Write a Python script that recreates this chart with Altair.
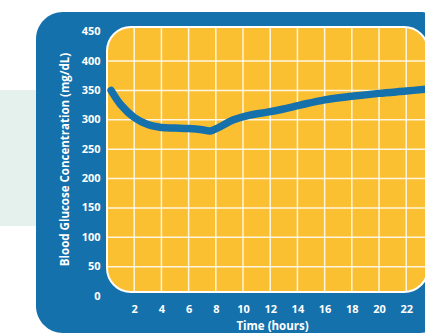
import altair as alt
import pandas as pd

# Data
hours = [0.3, 1, 2, 3, 4, 5, 6, 7, 7.6, 8.3, 9.3, 10.5, 11.8, 12.9, 14.2, 16, 18, 20, 22, 23.4]
glucose = [350, 326, 304, 292, 287, 286, 285, 283, 281, 288, 300, 308, 313, 318, 325, 334, 340, 345, 349, 352]
x_ticks = [2, 4, 6, 8, 10, 12, 14, 16, 18, 20, 22]
y_ticks = [0, 50, 100, 150, 200, 250, 300, 350, 400, 450]
x_grid = [2, 4, 6, 8, 10, 12, 14, 16, 18, 20, 22, 24]
y_grid = [50, 100, 150, 200, 250, 300, 350, 400]

BLUE = "#1571AB"
YELLOW = "#FBBF32"
FONT = "Open Sans"

W, H = 318, 269
x_scale = alt.Scale(domain=[0, 23.38], nice=False, zero=False)
y_scale = alt.Scale(domain=[0, 458], nice=False, zero=False)

x_axis = alt.Axis(values=x_ticks, grid=False, domain=False, ticks=False, zindex=2,
                  labelColor="white", labelFont=FONT, labelFontWeight="bold",
                  labelFontSize=11, labelPadding=7,
                  title="Time (hours)", titleColor="white", titleFont=FONT,
                  titleFontWeight="bold", titleFontSize=11.5, titlePadding=6,
                  titleX=165)
y_axis = alt.Axis(values=y_ticks, grid=False, domain=False, ticks=False, zindex=2,
                  labelColor="white", labelFont=FONT, labelFontWeight="bold",
                  labelFontSize=11, labelPadding=7,
                  title="Blood Glucose Concentration (mg/dL)", titleColor="white",
                  titleFont=FONT, titleFontWeight="bold", titleFontSize=11.5,
                  titlePadding=11, titleY=132)

one = alt.Data(values=[{"k": 1}])

pale = alt.Chart(one).mark_rect(color="#E4F1EC").encode(
    x=alt.value(-107), x2=alt.value(-60), y=alt.value(63), y2=alt.value(199))

panel = alt.Chart(one).mark_rect(color=BLUE, cornerRadius=27).encode(
    x=alt.value(-71), x2=alt.value(340), y=alt.value(-15), y2=alt.value(306))

plot_bg = alt.Chart(one).mark_rect(color=YELLOW, cornerRadius=24, stroke="white",
                                   strokeWidth=2).encode(
    x=alt.value(0), x2=alt.value(321), y=alt.value(0), y2=alt.value(265))

vgrid = alt.Chart(pd.DataFrame({"t": x_grid})).mark_rule(
    color="white", strokeWidth=1.5, opacity=0.85).encode(
    x=alt.X("t:Q", scale=x_scale, axis=x_axis),
    y=alt.value(1), y2=alt.value(264))

hgrid = alt.Chart(pd.DataFrame({"v": y_grid})).mark_rule(
    color="white", strokeWidth=1.5, opacity=0.85).encode(
    y=alt.Y("v:Q", scale=y_scale, axis=y_axis),
    x=alt.value(1), x2=alt.value(321))

line = alt.Chart(pd.DataFrame({"t": hours, "v": glucose})).mark_line(
    color=BLUE, strokeWidth=7.5, strokeCap="round", interpolate="catmull-rom").encode(
    x=alt.X("t:Q", scale=x_scale, axis=x_axis),
    y=alt.Y("v:Q", scale=y_scale, axis=y_axis))

chart = alt.layer(pale, panel, plot_bg, vgrid, hgrid, line).properties(
    width=W, height=H,
    autosize=alt.AutoSizeParams(type="none"),
    padding={"left": 107, "top": 27, "right": 0, "bottom": 39},
    background="white",
).configure_view(stroke=None, fill=None)

chart.save("out.html", embed_options={"renderer": "svg", "actions": False})
